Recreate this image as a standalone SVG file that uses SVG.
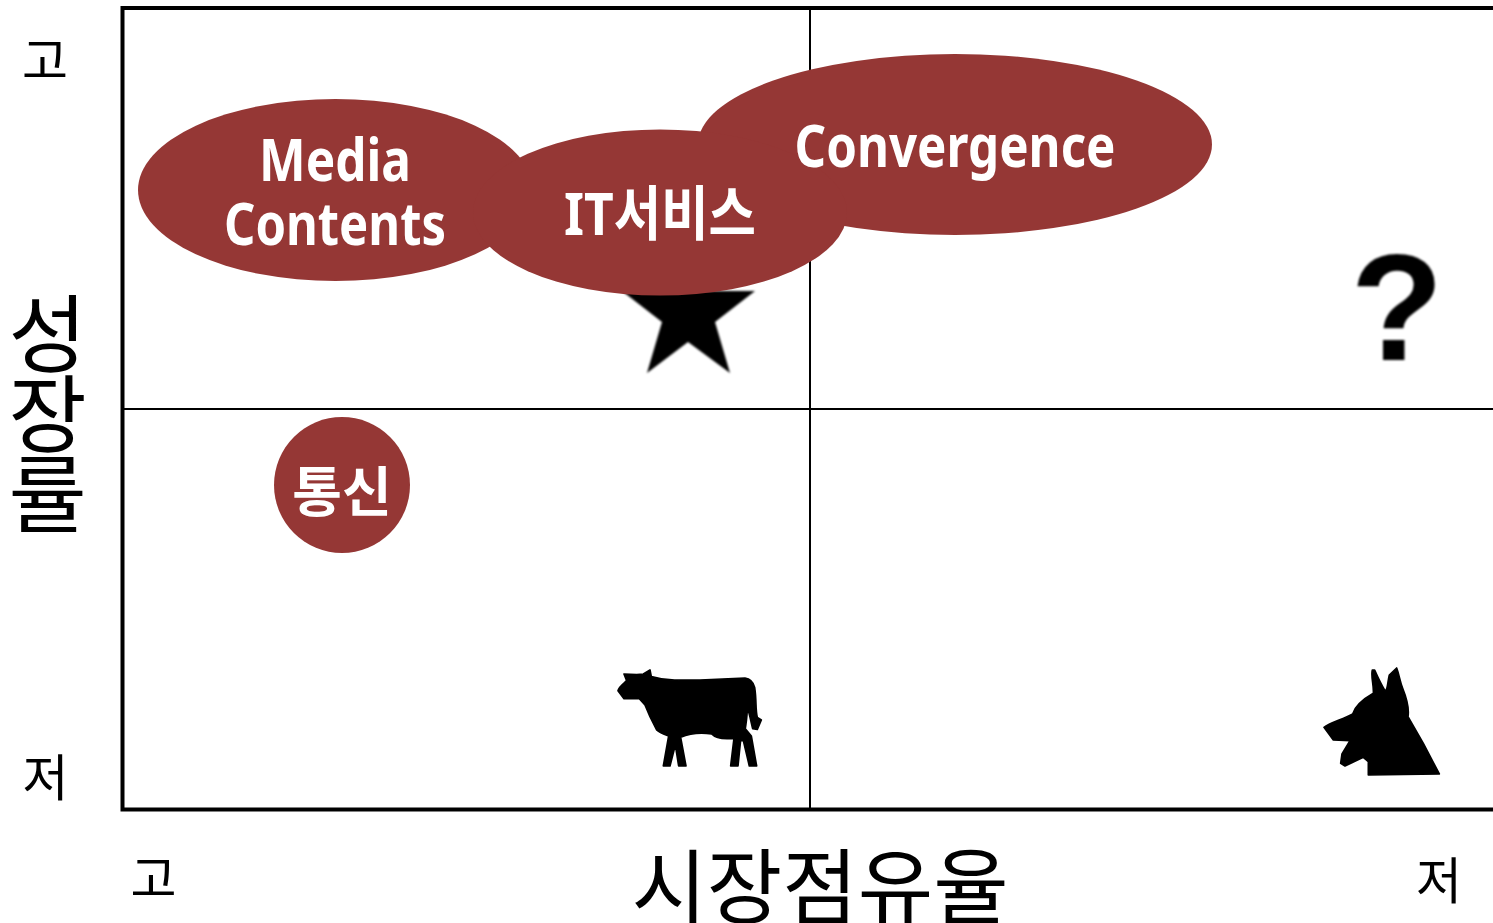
<svg xmlns="http://www.w3.org/2000/svg" width="1493" height="923" viewBox="0 0 1493 923">
<style>
.k{font-family:"Noto Sans CJK KR","Noto Sans",sans-serif;fill:#000}
.e{fill:#953735}
.w{font-family:"Noto Sans","Noto Sans CJK KR",sans-serif;font-weight:700;fill:#fff;text-anchor:middle;font-size:59px}
.i{fill:#000;filter:url(#b)}
.p{stroke:#000;stroke-width:5;stroke-linejoin:round}
</style>
<defs><filter id="b" x="-10%" y="-10%" width="120%" height="120%"><feGaussianBlur stdDeviation="1"/></filter></defs>
<rect width="1493" height="923" fill="#fff"/>
<g id="connectors">
<path d="M124 409H1493M810 10V808" fill="none" stroke="#000" stroke-width="2"/>
<path d="M1493 8H122.500V809.500H1493" fill="none" stroke="#000" stroke-width="4"/>
</g>
<g id="star"><polygon class="i" points="755,291 715,322 730,373 688,342 647,373 662,322 622,291 672,291 688,235 705,291"/></g>
<g id="question"><text class="i" x="1397" y="360" text-anchor="middle" style="font-family:'Liberation Sans',sans-serif;font-weight:700;font-size:152px">?</text></g>
<g id="cow" transform="translate(600 650) scale(.3333)"><path class="i p" d="M54 122C58 108 72 100 80 92L72 72 110 74 130 72 150 60 154 80C180 88 210 92 240 90L300 90 435 84C450 86 460 96 464 112C470 150 466 180 472 202L484 210 472 238 458 236C452 210 448 190 442 172 442 200 438 220 436 236L454 258 470 348 448 348 430 272 422 270 414 348 392 348 402 265C375 268 350 268 335 252 300 247 270 250 242 262L258 348 236 348 226 285 210 348 190 348 206 258C190 252 178 248 170 240L150 200 135 165 118 146 72 146Z"/></g>
<g id="dog" transform="translate(1300 650) scale(.3333)"><path class="i p" d="M72 232C90 218 130 208 158 192 165 170 185 150 220 130 222 105 212 80 217 60L224 60C235 85 245 105 255 122 263 122 262 100 268 75L290 54C298 75 300 95 308 115 322 150 328 175 324 200L370 280 418 372 205 375 205 335 190 322 135 348 122 340 126 312 150 272 100 270Z"/></g>
<g id="node-convergence"><ellipse class="e" cx="955" cy="144.500" rx="257" ry="90.500"/></g>
<g id="node-media"><ellipse class="e" cx="335.500" cy="190" rx="197.500" ry="91"/><text class="w" x="335" y="181" textLength="152" lengthAdjust="spacingAndGlyphs">Media</text><text class="w" x="335" y="245" textLength="222" lengthAdjust="spacingAndGlyphs">Contents</text></g>
<g id="node-it"><ellipse class="e" cx="660" cy="212.500" rx="187" ry="83"/><text class="w" x="660" y="235" textLength="192" lengthAdjust="spacingAndGlyphs">IT서비스</text></g>
<text class="w" x="955" y="167" textLength="321" lengthAdjust="spacingAndGlyphs">Convergence</text>
<g id="node-telecom"><circle class="e" cx="342" cy="485" r="68"/><text class="w" x="342" y="512" style="font-size:54px">통신</text></g>
<g id="labels">
<text class="k" x="45" y="79" text-anchor="middle" font-size="50">고</text>
<text class="k" x="45.500" y="796" text-anchor="middle" font-size="50">저</text>
<text class="k" x="153.500" y="897" text-anchor="middle" font-size="50">고</text>
<text class="k" x="1439" y="899" text-anchor="middle" font-size="50">저</text>
<text class="k" x="820" y="917" text-anchor="middle" font-size="82">시장점유율</text>
<text class="k" x="47.500" y="291" font-size="85" letter-spacing="-5" style="writing-mode:vertical-rl">성장률</text>
</g>
</svg>
